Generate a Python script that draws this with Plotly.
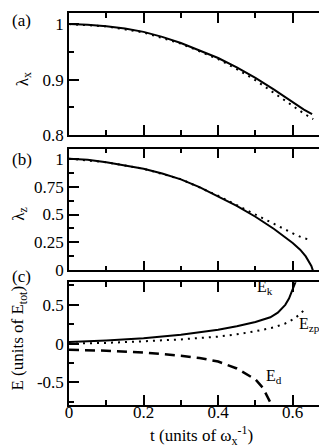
import plotly.graph_objects as go
from plotly.subplots import make_subplots

# ── data ────────────────────────────────────────────────────────────────────
t_lx_solid = [0, 0.05, 0.1, 0.15, 0.2, 0.25, 0.3, 0.35, 0.4, 0.45, 0.5, 0.55, 0.6, 0.63, 0.652]
lx_solid = [1.0, 0.999, 0.996, 0.992, 0.986, 0.977, 0.966, 0.953, 0.939, 0.922, 0.903, 0.882, 0.859, 0.846, 0.838]
t_lx_dot = [0, 0.1, 0.2, 0.3, 0.4, 0.45, 0.5, 0.55, 0.6, 0.63, 0.655]
lx_dot = [1.0, 0.996, 0.985, 0.965, 0.937, 0.919, 0.899, 0.876, 0.852, 0.839, 0.829]

t_lz_solid = [0, 0.05, 0.1, 0.15, 0.2, 0.25, 0.3, 0.35, 0.4, 0.45, 0.5, 0.55, 0.6, 0.62, 0.635, 0.645, 0.65, 0.654]
lz_solid = [1.0, 0.99, 0.968, 0.94, 0.91, 0.868, 0.815, 0.745, 0.665, 0.578, 0.48, 0.37, 0.245, 0.185, 0.125, 0.075, 0.04, 0.0]
t_lz_dot = [0, 0.1, 0.2, 0.3, 0.4, 0.45, 0.5, 0.53, 0.56, 0.59, 0.61, 0.63, 0.65]
lz_dot = [1.0, 0.968, 0.91, 0.817, 0.668, 0.585, 0.495, 0.45, 0.4, 0.35, 0.315, 0.288, 0.27]

t_ek = [0, 0.1, 0.2, 0.3, 0.4, 0.45, 0.5, 0.54, 0.56, 0.58, 0.59, 0.6, 0.608, 0.612]
e_k = [0.02, 0.04, 0.07, 0.115, 0.18, 0.225, 0.28, 0.34, 0.4, 0.5, 0.58, 0.69, 0.8, 0.86]
t_ezp = [0, 0.1, 0.2, 0.3, 0.4, 0.45, 0.5, 0.55, 0.58, 0.6, 0.62, 0.635]
e_zp = [0.0, 0.01, 0.03, 0.055, 0.09, 0.12, 0.16, 0.21, 0.26, 0.31, 0.38, 0.46]
t_ed = [0, 0.1, 0.2, 0.3, 0.35, 0.4, 0.45, 0.5, 0.52, 0.54, 0.55]
e_d = [-0.08, -0.09, -0.115, -0.155, -0.185, -0.23, -0.32, -0.46, -0.57, -0.74, -0.85]

# ── layout helpers (pixels of the 327x448 page) ─────────────────────────────
W, H = 327, 448
L, R, T, B = 61, 324, 4, 397
FONT = "'Times New Roman', 'Liberation Serif', 'DejaVu Serif', serif"


def px_x(x):
    return (x - L) / (R - L)


def px_y(y):
    return (B - y) / (B - T)


fig = make_subplots(rows=3, cols=1, shared_xaxes=True)

solid = dict(color="black", width=2)
dotted = dict(color="black", width=2, dash="2px,5px")
dashed = dict(color="black", width=2.5, dash="10px,6px")

fig.add_trace(go.Scatter(x=t_lx_solid, y=lx_solid, mode="lines", line=solid), row=1, col=1)
fig.add_trace(go.Scatter(x=t_lx_dot, y=lx_dot, mode="lines", line=dotted), row=1, col=1)
fig.add_trace(go.Scatter(x=t_lz_solid, y=lz_solid, mode="lines", line=solid), row=2, col=1)
fig.add_trace(go.Scatter(x=t_lz_dot, y=lz_dot, mode="lines", line=dotted), row=2, col=1)
fig.add_trace(go.Scatter(x=t_ek, y=e_k, mode="lines", line=solid), row=3, col=1)
fig.add_trace(go.Scatter(x=t_ezp, y=e_zp, mode="lines", line=dotted), row=3, col=1)
fig.add_trace(go.Scatter(x=t_ed, y=e_d, mode="lines", line=dashed), row=3, col=1)

axis_common = dict(
    showline=True, linecolor="black", linewidth=1.5, mirror="allticks",
    ticks="inside", ticklen=10, tickwidth=1.5, tickcolor="black",
    showgrid=False, zeroline=False,
    tickfont=dict(family=FONT, size=17, color="black"),
)
minor = dict(ticks="inside", ticklen=5, tickwidth=1.5, tickcolor="black", showgrid=False)

for i in (1, 2, 3):
    fig.update_xaxes(range=[0, 0.7], dtick=0.2, tick0=0, minor=dict(dtick=0.1, **minor),
                     showticklabels=(i == 3), row=i, col=1, **axis_common)
fig.update_xaxes(ticklabelstandoff=-9, row=3, col=1)

fig.update_yaxes(range=[0.8, 1.02], dtick=0.1, tick0=0.8, minor=dict(dtick=0.05, **minor),
                 domain=[px_y(126.5), 1], row=1, col=1, **axis_common)
fig.update_yaxes(range=[0, 1.09], dtick=0.25, tick0=0, minor=dict(dtick=0.125, **minor),
                 domain=[px_y(262), px_y(140)], row=2, col=1, **axis_common)
fig.update_yaxes(range=[-0.79, 0.79], tickvals=[-0.5, 0, 0.5], ticktext=["-0.5", "0", "0.5"],
                 minor=dict(tickvals=[-0.75, -0.25, 0.25, 0.75], **minor),
                 domain=[0, px_y(274)], row=3, col=1, **axis_common)

# axis titles and panel letters, placed in page pixels
texts = [
    ("(a)", 2, 12, 0, "left"),
    ("(b)", 2, 151, 0, "left"),
    ("(c)", 2, 268, 0, "left"),
    ("λ<sub>x</sub>", 15, 70, -90, "center"),
    ("λ<sub>z</sub>", 12, 205, -90, "center"),
    ("E (units of E<sub>tot</sub>)", 11, 330, -90, "center"),
    ("t (units of ω<sub>x</sub><sup>-1</sup>)", 195, 428, 0, "center"),
]
for text, x, y, ang, anchor in texts:
    fig.add_annotation(text=text, xref="paper", yref="paper", x=px_x(x), y=px_y(y),
                       xanchor=anchor, yanchor="middle", textangle=ang, showarrow=False,
                       font=dict(family=FONT, size=17, color="black"))

# curve labels in panel (c)
labels = [
    ("E<sub>k</sub>", 0.5, 0.72),
    ("E<sub>zp</sub>", 0.612, 0.25),
    ("E<sub>d</sub>", 0.524, -0.42),
]
for text, x, y in labels:
    fig.add_annotation(text=text, x=x, y=y, xref="x3", yref="y3", xanchor="left",
                       yanchor="middle", showarrow=False,
                       font=dict(family=FONT, size=16, color="black"))

fig.update_layout(
    width=W, height=H,
    margin=dict(l=L, r=W - R, t=T, b=H - B),
    paper_bgcolor="white", plot_bgcolor="white",
    showlegend=False,
    font=dict(family=FONT, size=17, color="black"),
)

fig.write_html("out.html")
